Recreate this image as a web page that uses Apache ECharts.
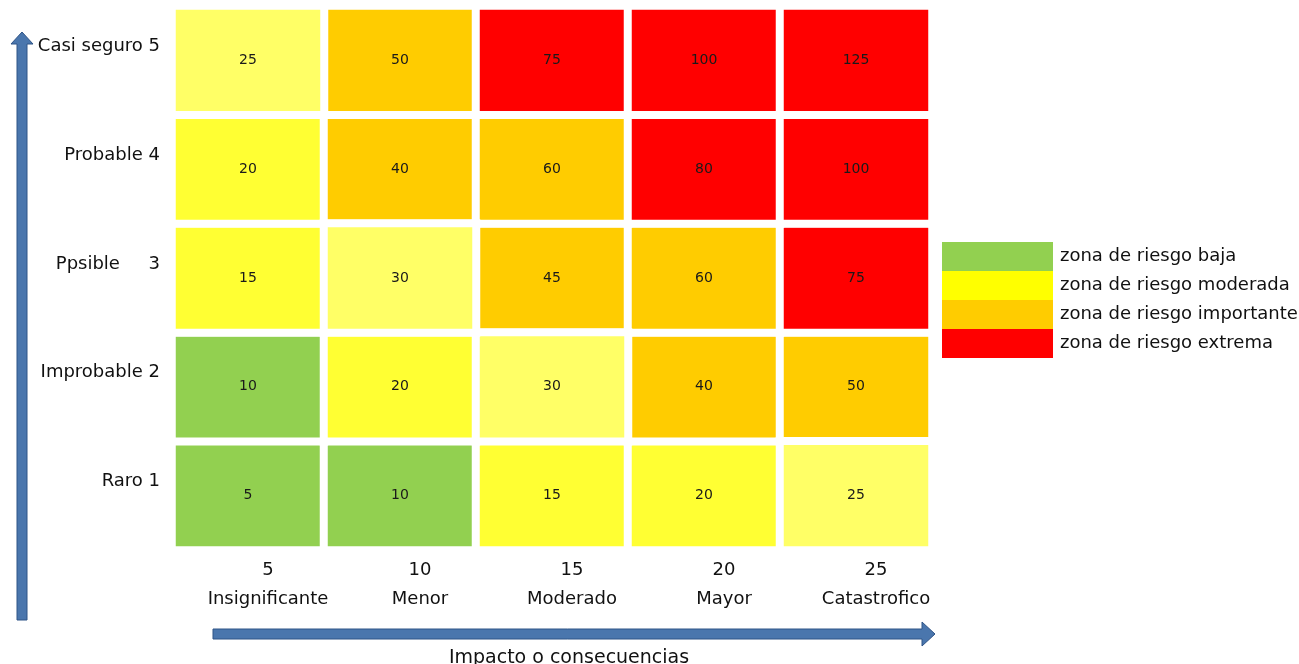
<!DOCTYPE html>
<html>
<head>
<meta charset="utf-8">
<script src="https://cdn.jsdelivr.net/npm/echarts@6/dist/echarts.min.js"></script>
<style>
  html, body { margin: 0; padding: 0; background: #fff; }
  #chart { width: 1299px; height: 664px; }
</style>
</head>
<body>
<div id="chart"></div>
<script>
// impacto (columnas) y probabilidad (filas, de abajo hacia arriba)
const impactos = ['5', '10', '15', '20', '25'];
const impactoNombres = ['Insignificante', 'Menor', 'Moderado', 'Mayor', 'Catastrofico'];
const probabilidades = ['Raro 1', 'Improbable 2', 'Ppsible     3', 'Probable 4', 'Casi seguro 5'];

// valores de cada celda, fila Raro 1 primero
const valores = [
    [5, 10, 15, 20, 25],
    [10, 20, 30, 40, 50],
    [15, 30, 45, 60, 75],
    [20, 40, 60, 80, 100],
    [25, 50, 75, 100, 125]
];

// zona de cada celda (b = baja, m = moderada, c = moderada clara, i = importante, e = extrema)
const zonas = [
    ['b', 'b', 'm', 'm', 'c'],
    ['b', 'm', 'c', 'i', 'i'],
    ['m', 'c', 'i', 'i', 'e'],
    ['m', 'i', 'i', 'e', 'e'],
    ['c', 'i', 'e', 'e', 'e']
];

const zonaNombres = {
    b: 'zona de riesgo baja',
    m: 'zona de riesgo moderada',
    i: 'zona de riesgo importante',
    e: 'zona de riesgo extrema',
    c: 'moderada clara'
};
const zonaColores = { b: '#92D050', m: '#FFFF00', c: '#FFFF66', i: '#FFCC00', e: '#FF0000' };
// el amarillo de las celdas es un poco más suave que el de la leyenda
const celdaColores = { b: '#92D050', m: '#FFFF33', c: '#FFFF66', i: '#FFCC00', e: '#FF0000' };

const FONT = 'DejaVu Sans';

function celdasDeZona(z) {
    const out = [];
    for (let y = 0; y < valores.length; y++) {
        for (let x = 0; x < valores[y].length; x++) {
            if (zonas[y][x] === z) out.push([x, y, valores[y][x]]);
        }
    }
    return out;
}

const series = ['b', 'm', 'i', 'e', 'c'].map(z => ({
    name: zonaNombres[z],
    type: 'heatmap',
    data: celdasDeZona(z),
    itemStyle: {
        color: celdaColores[z],
        borderColor: '#fff',
        borderWidth: 8
    },
    label: {
        show: true,
        formatter: p => p.value[2],
        color: '#1a1a1a',
        fontFamily: FONT,
        fontSize: 14
    },
    emphasis: { disabled: true }
}));

const chart = echarts.init(document.getElementById('chart'));

chart.setOption({
    animation: false,
    backgroundColor: '#fff',
    grid: { left: 172, right: 367, top: 6, bottom: 114, outerBoundsMode: 'none', containLabel: false },
    legend: {
        orient: 'vertical',
        left: 942,
        top: 242,
        padding: 0,
        itemGap: 0,
        itemWidth: 111,
        itemHeight: 29,
        icon: 'rect',
        selectedMode: false,
        data: ['b', 'm', 'i', 'e'].map(z => ({
            name: zonaNombres[z],
            itemStyle: { color: zonaColores[z], borderWidth: 0 }
        })),
        itemStyle: { borderWidth: 0 },
        textStyle: { fontFamily: FONT, fontSize: 18, color: '#111', padding: [0, 0, 0, 2] }
    },
    xAxis: {
        type: 'category',
        data: impactos.map((n, i) => n + '\n' + impactoNombres[i]),
        axisLine: { show: false },
        axisTick: { show: false },
        splitLine: { show: false },
        splitArea: { show: false },
        axisLabel: {
            margin: 6,
            padding: [0, 0, 0, 40],
            formatter: v => {
                const [n, t] = v.split('\n');
                return '{n|' + n + '}\n{t|' + t + '}';
            },
            rich: {
                n: { fontFamily: FONT, fontSize: 18, lineHeight: 29, color: '#111' },
                t: { fontFamily: FONT, fontSize: 18, lineHeight: 29, color: '#111' }
            }
        },
        name: 'Impacto o consecuencias',
        nameLocation: 'middle',
        nameGap: 99,
        nameTextStyle: { fontFamily: FONT, fontSize: 19, color: '#111', padding: [0, 0, 0, 34] }
    },
    yAxis: {
        type: 'category',
        data: probabilidades,
        axisLine: { show: false },
        axisTick: { show: false },
        splitLine: { show: false },
        splitArea: { show: false },
        axisLabel: {
            margin: 12,
            fontFamily: FONT,
            fontSize: 18,
            color: '#111',
            verticalAlign: 'bottom',
            padding: [0, 0, 5, 0]
        }
    },
    graphic: [
        {
            type: 'polygon',
            shape: { points: [[17, 620], [17, 44], [11, 44], [22, 32], [33, 44], [27, 44], [27, 620]] },
            style: { fill: '#4a76ad', stroke: '#2f5487', lineWidth: 1 }
        },
        {
            type: 'polygon',
            shape: { points: [[213, 629], [922, 629], [922, 622], [935, 634], [922, 646], [922, 639], [213, 639]] },
            style: { fill: '#4a76ad', stroke: '#2f5487', lineWidth: 1 }
        }
    ],
    series: series
});
</script>
</body>
</html>
